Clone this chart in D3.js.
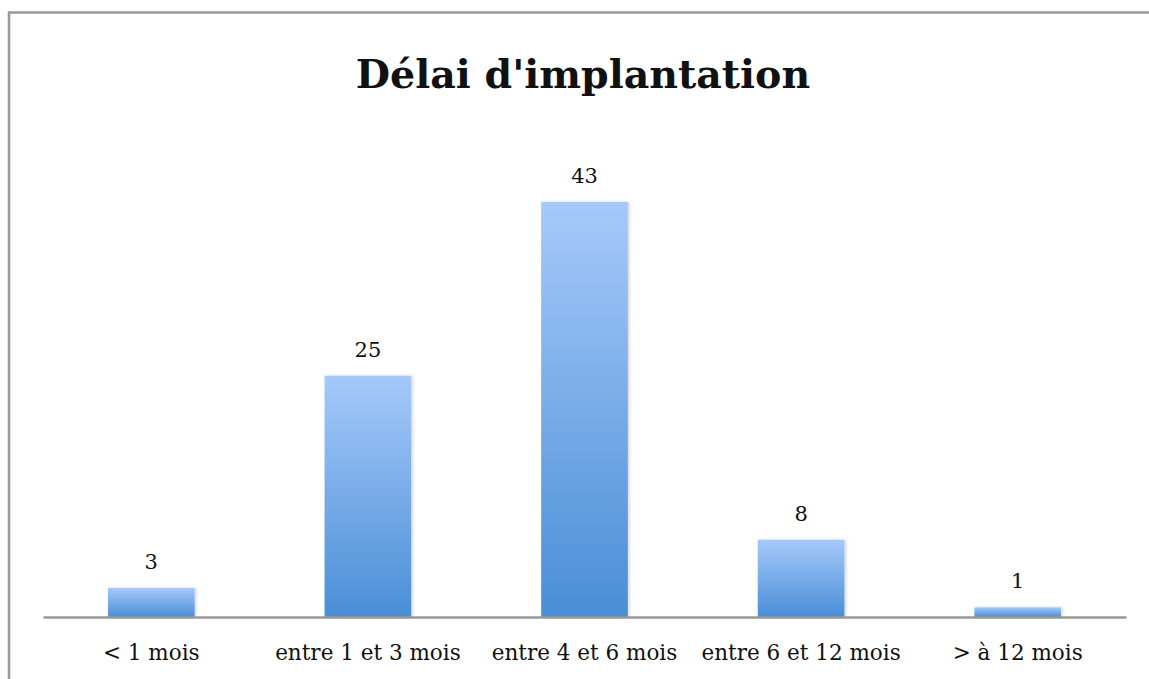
<!DOCTYPE html>
<html>
<head>
<meta charset="utf-8">
<script src="https://cdn.jsdelivr.net/npm/d3@7"></script>
<style>
body{margin:0;background:#fff;}
text{font-family:"DejaVu Serif",serif;fill:#111;}
</style>
</head>
<body>
<div id="chart"></div>
<script>
const w = 1149;
const h = 679;

// data
const categories = ["< 1 mois","entre 1 et 3 mois","entre 4 et 6 mois","entre 6 et 12 mois","> à 12 mois"];
const values = [3,25,43,8,1];
const title = "Délai d'implantation";

const xLeft = 43, xRight = 1126;
const yBase = 617;
const pxPerUnit = 9.65;

const svg = d3.select("#chart").append('svg')
.attr('width',w).attr('height',h);

//frame (only top and left visible)
svg.append('path')
.attr('d',`M9,${h} L9,12.5 L${w},12.5`)
.attr('fill','none').attr('stroke','#999').attr('stroke-width',2.5);

//gradient
const defs = svg.append('defs');
const grad = defs.append('linearGradient').attr('id','barGrad')
.attr('x1',0).attr('y1',0).attr('x2',0).attr('y2',1);
grad.append('stop').attr('offset','0%').attr('stop-color','#a6c9fa');
grad.append('stop').attr('offset','100%').attr('stop-color','#4a8ed6');
const shadow = defs.append('filter').attr('id','shadow')
.attr('x','-10%').attr('y','-10%').attr('width','130%').attr('height','130%');
shadow.append('feDropShadow').attr('dx',1.5).attr('dy',0).attr('stdDeviation',1.5)
.attr('flood-color','#000').attr('flood-opacity',0.18);

//scales
const xScale = d3.scaleBand()
.domain(categories)
.range([xLeft,xRight])
.paddingInner(0.6)
.paddingOuter(0.3);

const yScale = d3.scaleLinear()
.domain([0,50])
.range([yBase,yBase-50*pxPerUnit]);

//title
svg.append('text')
.attr('x',583).attr('y',88)
.attr('text-anchor','middle')
.style('font-size','39.5px').style('font-weight','bold')
.text(title);

//bars
svg.append('g').selectAll('rect')
.data(values)
.enter()
.append('rect')
.attr('x',(d,i)=>xScale(categories[i]))
.attr('y',d=>yScale(d))
.attr('width',xScale.bandwidth())
.attr('height',d=>yScale(0)-yScale(d))
.attr('fill','url(#barGrad)')
.attr('filter','url(#shadow)');

//value labels
svg.append('g').selectAll('text')
.data(values)
.enter()
.append('text')
.attr('x',(d,i)=>xScale(categories[i])+xScale.bandwidth()/2)
.attr('y',d=>yScale(d)-19)
.attr('text-anchor','middle')
.style('font-size','21px')
.text(d=>d);

//x axis
const xAxis = d3.axisBottom(xScale).tickSize(0).tickPadding(28);
const gx = svg.append('g')
.attr('transform',`translate(0,${yBase})`)
.call(xAxis);
gx.select('.domain').attr('stroke','#999').attr('stroke-width',2.5);
gx.selectAll('text')
.style('font-size','21.5px')
.style('font-family','"DejaVu Serif",serif')
.attr('fill','#111');
</script>
</body>
</html>
